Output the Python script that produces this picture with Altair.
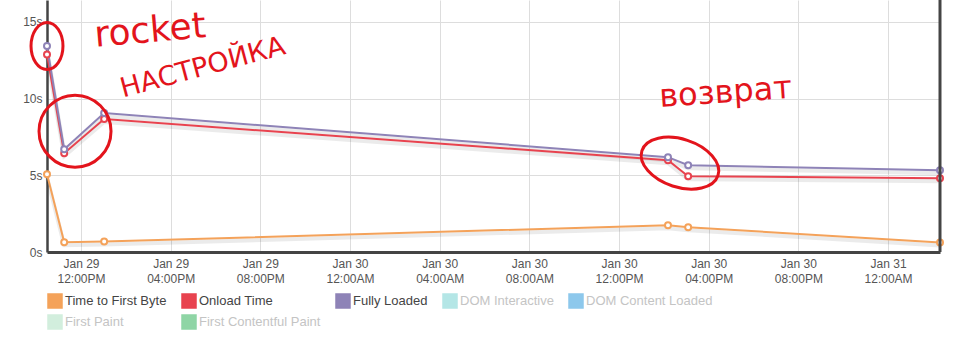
import altair as alt
import pandas as pd

# ---- data ----
times = ["2019-01-29T10:29:00", "2019-01-29T11:15:00", "2019-01-29T13:02:00",
         "2019-01-30T14:11:00", "2019-01-30T15:05:00", "2019-01-31T02:19:00"]
ttfb = [5.07, 0.64, 0.68, 1.74, 1.61, 0.62]
onload = [12.87, 6.44, 8.66, 5.98, 4.94, 4.81]
fully = [13.42, 6.70, 9.05, 6.18, 5.65, 5.32]

series_names = ["Time to First Byte", "Onload Time", "Fully Loaded", "DOM Interactive",
                "DOM Content Loaded", "First Paint", "First Contentful Paint"]
series_colors = ["#f4a25a", "#e8434f", "#8e83b7", "#b4e6e6", "#8dc8ec", "#d2eedd", "#8fd5a5"]
inactive = ["DOM Interactive", "DOM Content Loaded", "First Paint", "First Contentful Paint"]

y_ticks = [0, 5, 10, 15]
y_max = 16.42

# handwritten annotations (text, time, value, angle, size)
note_text = ["rocket", "НАСТРОЙКА", "возврат"]
note_time = ["2019-01-29T15:05:00", "2019-01-29T17:26:00", "2019-01-30T16:45:00"]
note_value = [14.4, 12.0, 10.4]
note_angle = [355, 345, 356]
note_size = [36, 27, 32]

# circled regions (time, value, path, size, angle)
ring_time = ["2019-01-29T10:29:00", "2019-01-29T11:44:00", "2019-01-30T14:43:00"]
ring_value = [13.42, 7.87, 5.79]
ring_path = ["M -0.68 0 A 0.68 1 0 1 0 0.68 0 A 0.68 1 0 1 0 -0.68 0",
             "M -1 0 A 1 1 0 1 0 1 0 A 1 1 0 1 0 -1 0",
             "M -1 0 A 1 0.6 0 1 0 1 0 A 1 0.6 0 1 0 -1 0"]
ring_size = [2209, 5184, 6400]
ring_angle = [0, 0, 18]

# ---- tables ----
rows = []
for name, vals in [("Time to First Byte", ttfb), ("Onload Time", onload), ("Fully Loaded", fully)]:
    for t, v in zip(times, vals):
        rows.append({"time": t, "value": v, "series": name})
df = pd.DataFrame(rows)

tick_values = [
    alt.DateTime(year=2019, month=1, date=29, hours=12),
    alt.DateTime(year=2019, month=1, date=29, hours=16),
    alt.DateTime(year=2019, month=1, date=29, hours=20),
    alt.DateTime(year=2019, month=1, date=30, hours=0),
    alt.DateTime(year=2019, month=1, date=30, hours=4),
    alt.DateTime(year=2019, month=1, date=30, hours=8),
    alt.DateTime(year=2019, month=1, date=30, hours=12),
    alt.DateTime(year=2019, month=1, date=30, hours=16),
    alt.DateTime(year=2019, month=1, date=30, hours=20),
    alt.DateTime(year=2019, month=1, date=31, hours=0),
]

x_enc = alt.X("time:T", scale=alt.Scale(nice=False), title=None,
              axis=alt.Axis(values=tick_values,
                            labelExpr="[timeFormat(datum.value, '%b %d'), timeFormat(datum.value, '%I:%M%p')]",
                            ticks=False, labelPadding=6, labelLineHeight=15,
                            domainColor="#444444", domainWidth=3,
                            labelAngle=0, labelFlush=False))
y_enc = alt.Y("value:Q", scale=alt.Scale(domain=[0, y_max], nice=False), title=None,
              axis=alt.Axis(values=y_ticks, labelExpr="datum.value + 's'", ticks=False,
                            labelPadding=5, domainColor="#444444", domainWidth=2.5))

color_scale = alt.Scale(domain=series_names, range=series_colors)

label_fill = ("indexof(" + str(inactive) + ", datum.label) >= 0 ? '#c4c4c4' : '#444444'")

legend = alt.Legend(
    orient="bottom", offset=9, direction="horizontal", columns=5, title=None,
    symbolType="square", symbolSize=196, symbolStrokeWidth=1.5,
    symbolFillColor=alt.expr("scale('color', datum.value)"),
    labelFont="Liberation Sans", labelFontSize=13,
    labelColor=alt.expr(label_fill), columnPadding=12, rowPadding=1, padding=0, labelOffset=2,
    symbolOpacity=1,
)

base = alt.Chart(df)

shadow = base.mark_line(color="#000000", opacity=0.08, strokeWidth=4, yOffset=3).encode(
    x=x_enc, y=y_enc, detail="series:N")

lines = base.mark_line(strokeWidth=2).encode(
    x=x_enc, y=y_enc,
    color=alt.Color("series:N", scale=color_scale, legend=legend))

points = base.mark_point(fill="white", filled=False, size=36, strokeWidth=2, opacity=1).encode(
    x=x_enc, y=y_enc,
    stroke=alt.Stroke("series:N", scale=color_scale, legend=None))

notes_df = pd.DataFrame({"text": note_text, "time": note_time, "value": note_value,
                         "angle": note_angle, "size": note_size})
notes = alt.Chart(notes_df).mark_text(color="#e3141c", font="DejaVu Sans").encode(
    x="time:T", y="value:Q", text="text:N",
    angle=alt.Angle("angle:Q", scale=None),
    size=alt.Size("size:Q", scale=None, legend=None))

rings = []
for t, v, p, s, a in zip(ring_time, ring_value, ring_path, ring_size, ring_angle):
    rdf = pd.DataFrame({"time": [t], "value": [v]})
    rings.append(alt.Chart(rdf).mark_point(shape=p, size=s, angle=a, filled=False,
                                           color="#e3141c", strokeWidth=3, opacity=1).encode(
        x="time:T", y="value:Q"))

border = alt.Chart(pd.DataFrame({"a": [0]})).mark_rule(color="#444444", strokeWidth=3).encode(
    x=alt.value(893), y=alt.value(0), y2=alt.value(252))

chart = alt.layer(shadow, lines, points, *rings, notes, border).properties(
    width=893, height=252,
    padding={"left": 47, "top": 0, "right": 25, "bottom": 87},
    autosize=alt.AutoSizeParams(type="none"),
).configure_view(stroke=None).configure_axis(
    gridColor="#dddddd", gridWidth=1, labelFont="Liberation Sans", labelFontSize=12,
    labelColor="#555555"
)

chart.save("out.html", embed_options={"renderer": "svg", "actions": False})
